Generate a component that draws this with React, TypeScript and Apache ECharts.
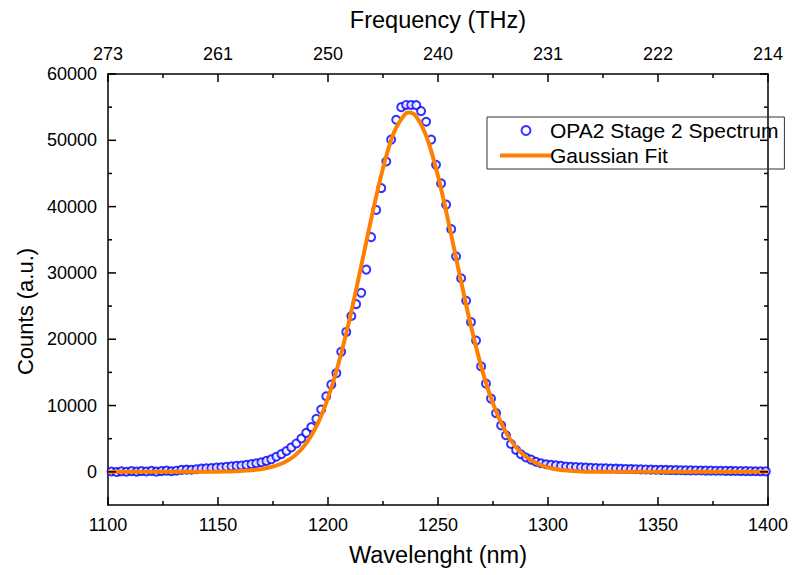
import React, { useEffect, useRef } from "react";
import * as echarts from "echarts";

const wavelengths = [
  1101.6, 1103.9, 1106.1, 1108.4, 1110.7, 1113.0, 1115.2, 1117.5, 1119.8, 1122.0,
  1124.3, 1126.6, 1128.8, 1131.1, 1133.4, 1135.7, 1137.9, 1140.2, 1142.5, 1144.7,
  1147.0, 1149.3, 1151.5, 1153.8, 1156.1, 1158.4, 1160.6, 1162.9, 1165.2, 1167.4,
  1169.7, 1172.0, 1174.2, 1176.5, 1178.8, 1181.1, 1183.3, 1185.6, 1187.9, 1190.1,
  1192.4, 1194.7, 1196.9, 1199.2, 1201.5, 1203.8, 1206.0, 1208.3, 1210.6, 1212.8,
  1215.1, 1217.4, 1219.6, 1221.9, 1224.2, 1226.5, 1228.7, 1231.0, 1233.3, 1235.5,
  1237.8, 1240.1, 1242.3, 1244.6, 1246.9, 1249.1, 1251.4, 1253.7, 1256.0, 1258.2,
  1260.5, 1262.8, 1265.0, 1267.3, 1269.6, 1271.8, 1274.1, 1276.4, 1278.7, 1280.9,
  1283.2, 1285.5, 1287.7, 1290.0, 1292.3, 1294.5, 1296.8, 1299.1, 1301.4, 1303.6,
  1305.9, 1308.2, 1310.4, 1312.7, 1315.0, 1317.2, 1319.5, 1321.8, 1324.1, 1326.3,
  1328.6, 1330.9, 1333.1, 1335.4, 1337.7, 1339.9, 1342.2, 1344.5, 1346.8, 1349.0,
  1351.3, 1353.6, 1355.8, 1358.1, 1360.4, 1362.6, 1364.9, 1367.2, 1369.5, 1371.7,
  1374.0, 1376.3, 1378.5, 1380.8, 1383.1, 1385.3, 1387.6, 1389.9, 1392.2, 1394.4,
  1396.7, 1399.0,
];

const counts = [
  50, -30, 80, 20, 110, 40, 120, 60, 150, 30,
  120, 180, 90, 170, 300, 330, 320, 400, 500, 540,
  580, 640, 690, 750, 830, 900, 950, 1050, 1160, 1300,
  1450, 1650, 1890, 2280, 2680, 3140, 3680, 4280, 5030, 5880,
  6750, 7990, 9400, 11400, 13150, 14900, 18100, 21100, 23500, 25300,
  27000, 30500, 35400, 39500, 42800, 46800, 50100, 53100, 55000, 55330,
  55330, 55300, 54400, 52800, 50100, 46300, 43500, 40300, 36600, 32500,
  29200, 25800, 22600, 19800, 15900, 13300, 11050, 8850, 7000, 5520,
  4200, 3300, 2650, 2160, 1850, 1520, 1300, 1140, 1060, 980,
  900, 810, 770, 730, 690, 650, 610, 580, 550, 520,
  500, 480, 460, 440, 420, 400, 380, 360, 340, 320,
  300, 290, 270, 260, 250, 230, 220, 210, 200, 190,
  180, 170, 160, 150, 140, 130, 120, 110, 100, 90,
  80, 70,
];

const fitWavelengths = [
  1100, 1110, 1120, 1130, 1140, 1150, 1155, 1160, 1165, 1170,
  1175, 1180, 1185, 1190, 1195, 1200, 1205, 1210, 1215, 1220,
  1225, 1230, 1235, 1237, 1240, 1245, 1250, 1255, 1260, 1265,
  1270, 1275, 1280, 1285, 1290, 1295, 1300, 1305, 1310, 1315,
  1320, 1330, 1340, 1360, 1380, 1400,
];

const fitCounts = [
  0, 0, 0, 2, 8, 30, 60, 120, 230, 430,
  780, 1400, 2450, 4250, 7050, 11150, 16600, 23300, 30900, 38700,
  45800, 51200, 53950, 54200, 53650, 50350, 44600, 37300, 29450, 21950,
  15450, 10300, 6500, 3900, 2250, 1250, 650, 320, 150, 70,
  30, 5, 0, 0, 0, 0,
];

const freqLabels = ["273", "261", "250", "240", "231", "222", "214"];
const xMajorTicks = [1100, 1150, 1200, 1250, 1300, 1350, 1400];
const xMinorTicks = [1125, 1175, 1225, 1275, 1325, 1375];
const yMajorTicks = [0, 10000, 20000, 30000, 40000, 50000, 60000];
const yMinorTicks = [5000, 15000, 25000, 35000, 45000, 55000];

const FONT = "'Liberation Sans', Arial, sans-serif";

// tick kinds: 0 = x major, 1 = x minor, 2 = y major, 3 = y minor
const tickItems = [
  ...xMajorTicks.map((v) => [v, 0]),
  ...xMinorTicks.map((v) => [v, 1]),
  ...yMajorTicks.map((v) => [v, 2]),
  ...yMinorTicks.map((v) => [v, 3]),
];

export default function App() {
  const ref = useRef<HTMLDivElement>(null);
  useEffect(() => {
    if (!ref.current) return;
    const chart = echarts.init(ref.current, null, { renderer: "svg" });
    const tickStroke = { stroke: "#000", lineWidth: 1.5 };
    const renderTick = (params: any, api: any) => {
      const v = api.value(0);
      const kind = api.value(1);
      const cs = params.coordSys;
      const left = cs.x;
      const right = cs.x + cs.width;
      const top = cs.y;
      const bottom = cs.y + cs.height;
      if (kind === 0 || kind === 1) {
        const len = kind === 0 ? 8 : 4;
        const px = api.coord([v, 0])[0];
        return {
          type: "group",
          children: [
            { type: "line", shape: { x1: px, y1: bottom, x2: px, y2: bottom - len }, style: tickStroke },
            { type: "line", shape: { x1: px, y1: top, x2: px, y2: top + len }, style: tickStroke },
          ],
        };
      }
      const len = kind === 2 ? 8 : 4;
      const py = api.coord([1100, v])[1];
      return {
        type: "group",
        children: [
          { type: "line", shape: { x1: left, y1: py, x2: left + len, y2: py }, style: tickStroke },
          { type: "line", shape: { x1: right, y1: py, x2: right - len, y2: py }, style: tickStroke },
        ],
      };
    };
    chart.setOption({
      animation: false,
      backgroundColor: "#fff",
      textStyle: { fontFamily: FONT },
      grid: { left: 108, right: 24, top: 74, bottom: 70, containLabel: false },
      legend: {
        orient: "vertical",
        left: 487,
        top: 117,
        padding: [3, 6, 3, 13],
        itemGap: 4,
        itemWidth: 52,
        itemHeight: 9,
        borderColor: "#333",
        borderWidth: 1,
        borderRadius: 0,
        textStyle: { fontSize: 21, color: "#000", fontFamily: FONT, padding: [0, 0, 0, -7] },
        data: [
          { name: "OPA2 Stage 2 Spectrum" },
          { name: "Gaussian Fit", icon: "path://M0,0L52,0L52,4L0,4Z", itemStyle: { color: "#FF7F00" } },
        ],
      },
      xAxis: [
        {
          type: "value", min: 1100, max: 1400, interval: 50, position: "bottom",
          splitLine: { show: false },
          axisLine: { show: true, onZero: false, lineStyle: { color: "#000", width: 1.5 } },
          axisTick: { show: false },
          name: "Wavelenght (nm)",
          nameLocation: "middle",
          nameGap: 38,
          nameTextStyle: { fontSize: 23.5, color: "#000", fontFamily: FONT },
          axisLabel: { fontSize: 18, color: "#000", margin: 11, fontFamily: FONT, formatter: (v: number) => String(v) },
        },
        {
          type: "value", min: 1100, max: 1400, interval: 50, position: "top",
          splitLine: { show: false },
          axisLine: { show: true, onZero: false, lineStyle: { color: "#000", width: 1.5 } },
          axisTick: { show: false },
          name: "Frequency (THz)",
          nameLocation: "middle",
          nameGap: 42,
          nameTextStyle: { fontSize: 23.5, color: "#000", fontFamily: FONT },
          axisLabel: {
            fontSize: 18, color: "#000", margin: 11, fontFamily: FONT,
            formatter: (v: number) => {
              const i = Math.round((v - 1100) / 50);
              return freqLabels[i] ?? "";
            },
          },
        },
      ],
      yAxis: [
        {
          type: "value", min: -5000, max: 60000, position: "left",
          splitLine: { show: false },
          axisLine: { show: true, onZero: false, lineStyle: { color: "#000", width: 1.5 } },
          axisTick: { show: false },
          name: "Counts (a.u.)",
          nameLocation: "middle",
          nameGap: 72,
          nameRotate: 90,
          nameTextStyle: { fontSize: 22, color: "#000", fontFamily: FONT, padding: [0, 44, 0, 0] },
          axisLabel: {
            show: true, fontSize: 18, color: "#000", margin: 11, fontFamily: FONT,
            customValues: yMajorTicks,
            formatter: (v: number) => String(v),
          },
        },
        {
          type: "value", min: -5000, max: 60000, position: "right",
          splitLine: { show: false },
          axisLine: { show: true, onZero: false, lineStyle: { color: "#000", width: 1.5 } },
          axisTick: { show: false },
          axisLabel: { show: false },
        },
      ],
      series: [
        {
          name: "OPA2 Stage 2 Spectrum",
          type: "scatter",
          xAxisIndex: 0,
          yAxisIndex: 0,
          symbol: "emptyCircle",
          symbolSize: 8,
          itemStyle: { color: "#0000FF", borderColor: "#0000FF", borderWidth: 3 },
          data: wavelengths.map((w, i) => [w, counts[i]]),
          z: 2,
        },
        {
          name: "Gaussian Fit",
          type: "line",
          xAxisIndex: 0,
          yAxisIndex: 0,
          showSymbol: false,
          symbol: "none",
          smooth: 0.3,
          lineStyle: { color: "#FF7F00", width: 4 },
          itemStyle: { color: "#FF7F00" },
          data: fitWavelengths.map((w, i) => [w, fitCounts[i]]),
          z: 3,
        },
        {
          name: "axis ticks",
          type: "custom",
          xAxisIndex: 0,
          yAxisIndex: 0,
          silent: true,
          clip: false,
          renderItem: renderTick,
          data: tickItems,
          z: 4,
        },
      ],
    });
    return () => chart.dispose();
  }, []);
  return <div ref={ref} style={{ width: 792, height: 575, position: "absolute", left: 0, top: 0 }} />;
}
